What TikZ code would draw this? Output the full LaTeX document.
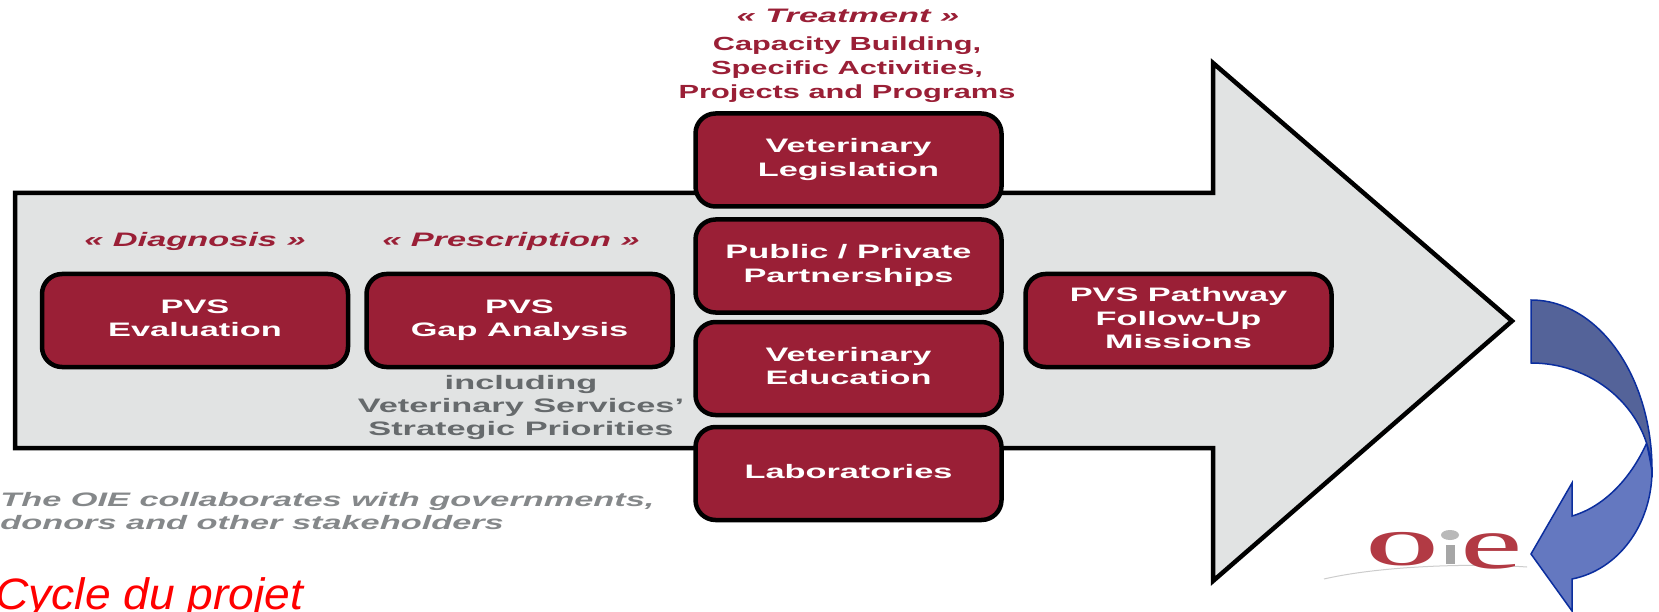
\documentclass[tikz,border=0pt]{standalone}
\usepackage{fontspec}
\setmainfont{Liberation Sans}
\newfontfamily\logofont{Liberation Serif}
\definecolor{wine}{HTML}{9A1F36}
\definecolor{greybody}{HTML}{E1E3E3}
\definecolor{midgrey}{HTML}{666A6C}
\definecolor{lightgrey}{HTML}{85888A}
\definecolor{arrowdark}{HTML}{546399}
\definecolor{arrowlight}{HTML}{6478C0}
\definecolor{arrowline}{HTML}{0B2E9E}
\definecolor{logored}{HTML}{B23A44}
\tikzset{
  x=1pt,y=-1pt,
  winebox/.style={draw=black,line width=4.5pt,fill=wine,rounded corners=20pt,text=white,font=\bfseries\fontsize{19.5}{23.5}\selectfont,align=center,inner sep=0pt,minimum width=306pt,minimum height=93pt},
  stretched/.style={align=center,inner sep=0pt,xscale=1.76},
  headtext/.style={stretched,text=wine,font=\bfseries\itshape\fontsize{19.5}{22}\selectfont},
  captext/.style={stretched,xscale=0.92,text=wine,font=\bfseries\fontsize{19}{24}\selectfont},
  greytext/.style={stretched,text=midgrey,font=\bfseries\fontsize{19.5}{23}\selectfont},
  bluearrow/.style={draw=arrowline,line width=1.5pt,line join=miter},
}
\newcommand{\wide}[1]{\raisebox{-6pt}{\scalebox{1.76}[1]{\begin{tabular}{@{}c@{}}#1\end{tabular}}}}
\begin{document}
\begin{tikzpicture}
\useasboundingbox (0,0) rectangle (1659,612);
\fill[white] (0,0) rectangle (1659,612);
% main arrow
\draw[draw=black,line width=4.5pt,fill=greybody,line join=miter] (15,193) -- (1213,193) -- (1213,63) -- (1512,321) -- (1213,581) -- (1213,448) -- (15,448) -- cycle;
% boxes
\node[winebox] (eval) at (195,320.5) {\wide{PVS\\Evaluation}};
\node[winebox] (gap) at (519.5,320.5) {\wide{PVS\\Gap Analysis}};
\node[winebox] (follow) at (1178.5,320.5) {\wide{PVS Pathway\\Follow-Up\\Missions}};
\node[winebox] (legis) at (848.5,160) {\wide{Veterinary\\Legislation}};
\node[winebox] (ppp) at (848.5,266) {\wide{Public / Private\\Partnerships}};
\node[winebox] (edu) at (848.5,368.5) {\wide{Veterinary\\Education}};
\node[winebox] (labs) at (848.5,473.5) {\wide{Laboratories}};
% headings
\node[headtext] (diag) at (195,241.5) {« Diagnosis »};
\node[headtext] (presc) at (511,241.5) {« Prescription »};
\node[headtext] (treat) at (848,16) {« Treatment »};
\node[captext] (cap) at (847,69.5) {Capacity Building,\\Specific Activities,\\Projects and Programs};
\node[greytext] (incl) at (521,407) {including\\Veterinary Services'\\Strategic Priorities};
\node[stretched,anchor=west,align=left,text=lightgrey,font=\bfseries\itshape\fontsize{19.5}{23}\selectfont] (oie) at (0,511.5) {The OIE collaborates with governments,\\donors and other stakeholders};
\node[inner sep=0pt,anchor=base west,xscale=1.05,text=red,font=\itshape\fontsize{44}{48}\selectfont] (cycle) at (-5,609) {Cycle du projet};
% curved arrow
\draw[bluearrow,fill=arrowlight] (1652,470) .. controls (1652,525) and (1618,570) .. (1572,579) -- (1572,611) -- (1531,554) -- (1572,483) -- (1572,516) .. controls (1603,507) and (1630,480) .. (1646.7,443) -- cycle;
\draw[bluearrow,fill=arrowdark] (1531,300) .. controls (1598,300) and (1652,376) .. (1652,470) -- (1652,477) .. controls (1652,414) and (1598,363) .. (1531,363) -- cycle;
% logo
\draw[gray!40,line width=1pt] (1324,579) .. controls (1380,566) and (1470,563) .. (1527,567);
\node[inner sep=0pt,text=logored,font=\logofont\bfseries\fontsize{50}{50}\selectfont,xscale=1.85] (logoO) at (1402,549) {O};
\node[inner sep=0pt,text=logored,font=\logofont\fontsize{74}{74}\selectfont,xscale=1.9] (logoE) at (1491.5,551) {e};
\fill[gray!70] (1446,545) rectangle (1455,564);
\fill[gray!55] (1450,535) ellipse (9 and 5);
\end{tikzpicture}
\end{document}
